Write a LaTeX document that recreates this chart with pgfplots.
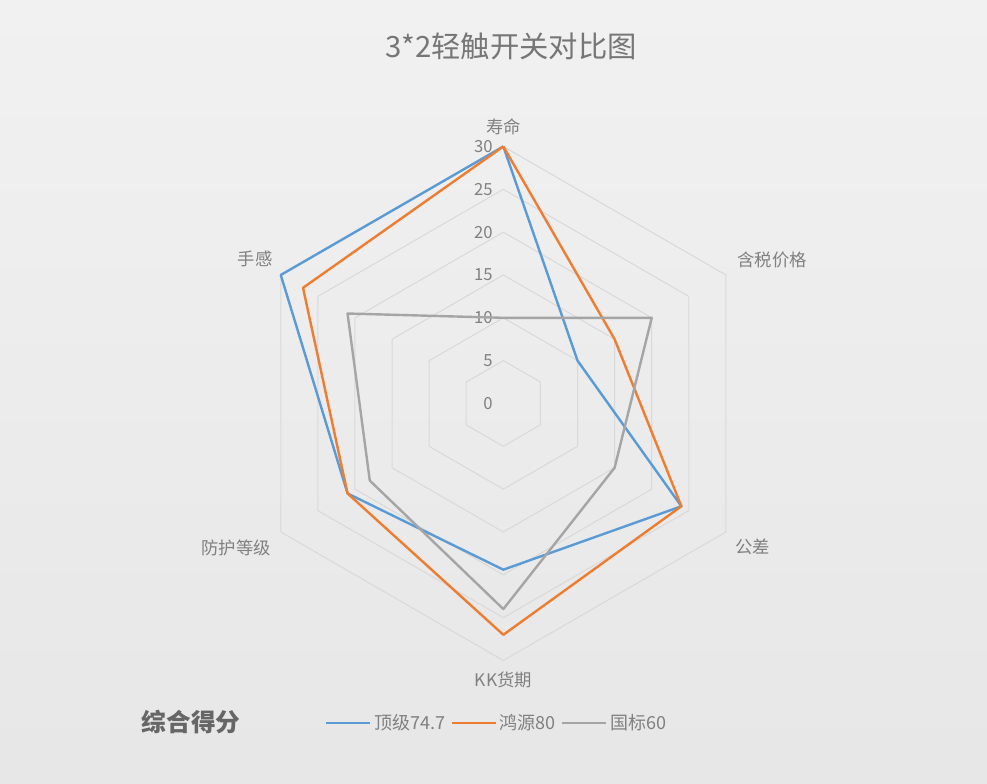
\documentclass[border=0pt]{standalone}
\usepackage{pgfplots}
\pgfplotsset{compat=1.18}
\usepackage{fontspec}
\setmainfont{Noto Sans CJK SC}
\definecolor{cBlue}{HTML}{5B9BD5}
\definecolor{cOrange}{HTML}{ED7D31}
\definecolor{cGray}{HTML}{A5A5A5}
\definecolor{ringc}{HTML}{D9D9D9}
\definecolor{txt}{HTML}{808080}
\definecolor{ttl}{HTML}{767676}
\begin{document}
\begin{tikzpicture}
\begin{scope}[x=0.75pt,y=-0.75pt]
\shade[top color=white!94.5!black, bottom color=white!90.5!black] (0,0) rectangle (987,783);
\node[text=ttl, font=\fontsize{22}{24}\selectfont] at (511,46) {3*2轻触开关对比图};
\node[text=txt, font=\fontsize{13}{15}\selectfont] at (503.5,127) {寿命};
\node[text=txt, font=\fontsize{13}{15}\selectfont] at (772,260) {含税价格};
\node[text=txt, font=\fontsize{13}{15}\selectfont] at (752.5,547) {公差};
\node[text=txt, font=\fontsize{13}{15}\selectfont] at (503.5,680) {KK货期};
\node[text=txt, font=\fontsize{13}{15}\selectfont] at (236,548) {防护等级};
\node[text=txt, font=\fontsize{13}{15}\selectfont] at (255,259) {手感};
\foreach \v in {0,5,10,15,20,25,30}{
  \node[text=txt, anchor=east, inner sep=0pt, font=\fontsize{12.5}{14}\selectfont] at (493,{403.5-\v*8.567}) {\v};
}
\node[text=white!40!black, font=\fontsize{18.5}{21}\selectfont\bfseries] at (191,722) {综合得分};
\end{scope}
\begin{axis}[
  at={(377.5pt,-302.6pt)}, anchor=origin,
  x=6.425pt, y=6.425pt,
  xmin=-32, xmax=32, ymin=-32, ymax=32,
  hide axis, clip=false,
  data cs=polar,
  legend columns=3,
  legend style={at={(axis description cs:0.1747,-0.0828)}, anchor=west,
    draw=none, fill=none, inner sep=0pt, text=txt,
    font=\fontsize{13.5}{15}\selectfont,
    /tikz/every even column/.append style={column sep=2pt}},
  legend image code/.code={\draw[#1] (0pt,0pt) -- (33pt,0pt);},
]
% rings
\foreach \r in {5,10,15,20,25,30}{
  \edef\tmp{\noexpand\addplot[ringc, line width=0.75pt, forget plot] coordinates {(90,\r) (30,\r) (-30,\r) (-90,\r) (-150,\r) (150,\r) (90,\r) (30,\r)};}
  \tmp
}
% series: 寿命 90, 含税价格 30, 公差 -30, KK货期 -90, 防护等级 -150, 手感 150
\addplot[cBlue, line width=1.8pt, line join=round] coordinates {(90,30) (30,10) (-30,24) (-90,19.4) (-150,21) (150,30) (90,30)};
\addlegendentry{顶级74.7}
\addplot[cOrange, line width=1.8pt, line join=round] coordinates {(90,30) (30,15) (-30,24) (-90,27) (-150,21) (150,27) (90,30)};
\addlegendentry{鸿源80}
\addplot[cGray, line width=1.8pt, line join=round] coordinates {(90,10) (30,20) (-30,15) (-90,24) (-150,18) (150,21) (90,10)};
\addlegendentry{国标60}
\end{axis}
\pgfresetboundingbox
\useasboundingbox (0,0) rectangle (740.25pt,-587.25pt);
\end{tikzpicture}
\end{document}
